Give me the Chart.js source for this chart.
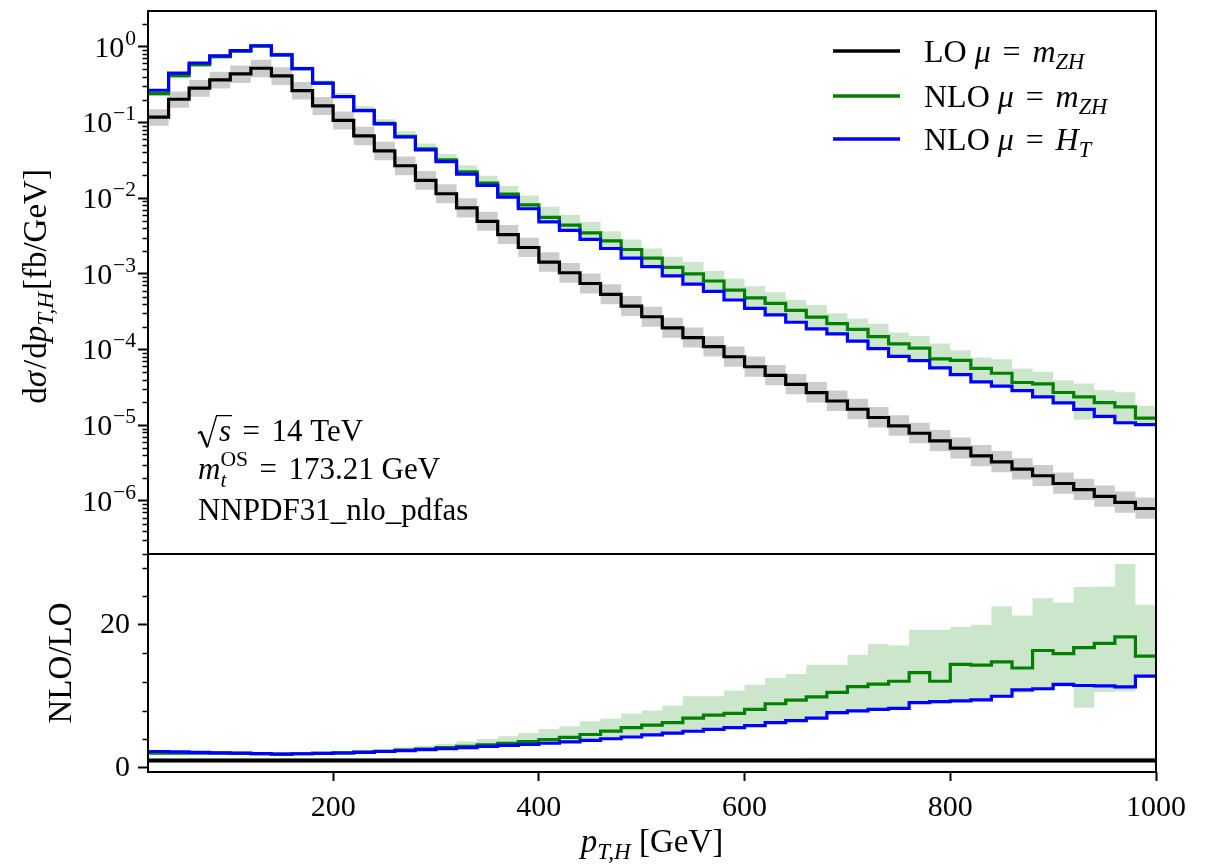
<!DOCTYPE html>
<html><head><meta charset="utf-8">
<script src="https://cdn.jsdelivr.net/npm/chart.js@4.4.1/dist/chart.umd.min.js"></script>
<style>
html,body{margin:0;padding:0;background:#fff;}
#wrap{position:relative;width:1214px;height:864px;background:#fff;}
canvas{position:absolute;left:0;top:0;}
</style></head><body>
<div id="wrap"><canvas id="cTop" width="1214" height="864"></canvas><canvas id="cBot" width="1214" height="864"></canvas></div>
<script>
// ---------- data ----------
const EDGES = [20,40,60,80,100,120,140,160,180,200,220,240,260,280,300,320,340,360,380,400,420,440,460,480,500,520,540,560,580,600,620,640,660,680,700,720,740,760,780,800,820,840,860,880,900,920,940,960,980,1000];
// LO central value dsigma/dpT [fb/GeV]
const LO = [0.117,0.202,0.283,0.364,0.436,0.519,0.411,0.263,0.165,0.106,0.0664,0.0421,0.0267,0.0171,0.0114,0.0074,0.00492,0.00329,0.00222,0.00142,0.00103,7.43e-4,5.32e-4,3.73e-4,2.70e-4,1.93e-4,1.43e-4,1.09e-4,8.0e-5,5.9e-5,4.54e-5,3.46e-5,2.69e-5,2.08e-5,1.62e-5,1.26e-5,9.75e-6,7.8e-6,6.18e-6,4.95e-6,3.92e-6,3.27e-6,2.62e-6,2.14e-6,1.69e-6,1.40e-6,1.14e-6,9.5e-7,7.9e-7];
// LO scale band (relative to LO)
const LO_UP = [1.27,1.27,1.28,1.28,1.29,1.29,1.30,1.30,1.31,1.31,1.32,1.32,1.33,1.33,1.33,1.34,1.34,1.34,1.35,1.35,1.35,1.35,1.36,1.36,1.36,1.36,1.36,1.37,1.37,1.37,1.37,1.37,1.38,1.38,1.38,1.38,1.38,1.38,1.39,1.39,1.39,1.39,1.39,1.39,1.40,1.40,1.40,1.40,1.40];
const LO_DN = [0.77,0.77,0.77,0.77,0.76,0.76,0.76,0.76,0.76,0.76,0.75,0.75,0.75,0.75,0.75,0.75,0.75,0.75,0.75,0.75,0.74,0.74,0.74,0.74,0.74,0.74,0.74,0.74,0.74,0.74,0.74,0.74,0.74,0.74,0.74,0.74,0.74,0.74,0.73,0.73,0.73,0.73,0.73,0.73,0.73,0.73,0.73,0.73,0.73];
// NLO/LO ratios
const R_MZH = [2.05,2.05,2.04,2.03,2.0,1.96,1.9,1.95,2.0,2.07,2.17,2.3,2.45,2.62,2.8,3.0,3.2,3.42,3.65,3.92,4.25,4.65,5.11,5.6,5.95,6.3,6.95,7.35,7.6,8.15,8.95,9.45,9.9,10.55,11.35,11.7,12.1,13.3,12.1,14.45,14.35,14.8,13.95,16.4,15.95,16.8,17.4,18.3,15.6];
const R_MZH_HI = [2.25,2.22,2.2,2.18,2.14,2.1,2.04,2.1,2.18,2.3,2.45,2.62,2.85,3.08,3.35,3.65,4.0,4.4,4.85,5.4,5.8,6.5,6.85,7.6,8.0,8.7,10.0,10.0,10.8,11.6,12.55,13.1,14.4,14.4,15.8,17.3,17.1,19.3,19.3,19.7,20.0,22.6,21.3,23.7,23.1,25.3,25.35,28.5,22.8];
const R_MZH_LO = [1.9,1.9,1.9,1.9,1.88,1.85,1.8,1.85,1.9,1.96,2.05,2.15,2.28,2.42,2.56,2.72,2.88,3.05,3.22,3.4,3.6,3.85,4.1,4.35,4.6,4.85,5.1,5.35,5.6,5.9,6.25,6.55,6.9,7.4,7.75,7.95,8.15,8.9,9.0,9.15,9.3,9.8,10.5,10.8,11.3,8.4,10.6,10.7,12.9];
const R_HT = [2.27,2.22,2.15,2.08,2.03,1.98,1.9,1.95,2.0,2.06,2.15,2.27,2.4,2.53,2.65,2.8,2.98,3.12,3.25,3.42,3.62,3.82,4.05,4.3,4.6,4.85,5.1,5.35,5.62,5.9,6.3,6.6,6.95,7.7,7.95,8.15,8.3,9.1,9.25,9.35,9.5,10.0,10.9,11.05,11.65,11.5,11.45,11.3,12.8];
// ticks
const X_TICKS = [200,400,600,800,1000];
const LOG_TICKS = [1,1e-1,1e-2,1e-3,1e-4,1e-5,1e-6];
const LOG_EXP = ['0','\u22121','\u22122','\u22123','\u22124','\u22125','\u22126'];
const RATIO_TICKS = [0,20];
const RATIO_MINOR = [4,8,12,16,24,28];
const LEGEND = ['LO', 'NLO', 'NLO'];

// ---------- helpers ----------
const SERIF = '"Liberation Serif","DejaVu Serif",serif';
const TICK_FS = 30, TEXT_FS = 31, LEG_FS = 32, LAB_FS = 33;
function fnt(size, it){ return (it ? 'italic ' : '') + size.toFixed(1) + 'px ' + SERIF; }
function layoutRuns(ctx, runs, size){
  let x = 0, items = [], prevStart = 0, prevW = 0;
  for (const r of runs){
    const s = size * (r.s || 1);
    ctx.font = fnt(s, r.it);
    const w = ctx.measureText(r.t).width;
    x += (r.pre || 0) * size;
    let start = x;
    if (r.stack){ start = prevStart; x = Math.max(prevStart + prevW, prevStart + w); }
    else { x += w; }
    items.push({r, s, x: start, w});
    prevStart = start; prevW = w;
    x += (r.gap || 0) * size;
  }
  return {items, width: x};
}
function drawRuns(ctx, runs, x, y, size, align){
  const L = layoutRuns(ctx, runs, size);
  const x0 = align === 'center' ? x - L.width / 2 : (align === 'right' ? x - L.width : x);
  ctx.textAlign = 'left'; ctx.textBaseline = 'alphabetic'; ctx.fillStyle = '#000';
  for (const it of L.items){
    ctx.font = fnt(it.s, it.r.it);
    ctx.fillText(it.r.t, x0 + it.x, y + (it.r.dy || 0) * size);
  }
  return L.width;
}
const EQ = {t: ' = ', pre: 0.12, gap: 0.12};
const steps = vals => { const p = []; vals.forEach((v, i) => { p.push({x: EDGES[i], y: v}); p.push({x: EDGES[i + 1], y: v}); }); return p; };
const mul = (a, b) => a.map((v, i) => v * b[i]);

const GREEN = '#008000', BLUE = '#0000ff', BLACK = '#000000';
const GREEN_BAND = 'rgba(0,128,0,0.2)', GREY_BAND = 'rgba(0,0,0,0.2)';
function lineDs(data, color, order, w){ return {data: steps(data), borderColor: color, borderWidth: w || 3.2, pointRadius: 0, fill: false, tension: 0, order, clip: 0, borderJoinStyle: 'miter', borderCapStyle: 'butt'}; }
function bandDs(data, color, fill, order){ return {data: steps(data), borderColor: 'rgba(0,0,0,0)', borderWidth: 1, pointRadius: 0, backgroundColor: color, fill, tension: 0, order, clip: 0}; }

const framePlugin = {id: 'frame', afterDraw(chart){ const a = chart.chartArea, c = chart.ctx; c.save(); c.strokeStyle = '#000'; c.lineWidth = 2; c.strokeRect(a.left, a.top, a.right - a.left, a.bottom - a.top); c.restore(); }};

function minorTicks(ctx, scale, vals, len){
  ctx.save(); ctx.strokeStyle = '#000'; ctx.lineWidth = 1.5;
  for (const v of vals){ const y = Math.round(scale.getPixelForValue(v)) + 0.5; ctx.beginPath(); ctx.moveTo(scale.right, y); ctx.lineTo(scale.right - len, y); ctx.stroke(); }
  ctx.restore();
}

// ---------- top panel ----------
const topAnno = {id: 'topAnno', afterDraw(chart){
  const ctx = chart.ctx, ys = chart.scales.y, a = chart.chartArea;
  // minor log ticks
  const minors = [];
  for (let n = -7; n <= 0; n++) for (let m = 2; m <= 9; m++){ const v = m * Math.pow(10, n); if (v > ys.min && v < ys.max) minors.push(v); }
  minorTicks(ctx, ys, minors, 5.5);
  // log tick labels
  LOG_TICKS.forEach((v, i) => {
    const y = ys.getPixelForValue(v);
    drawRuns(ctx, [{t: '10'}, {t: LOG_EXP[i], s: 0.72, dy: -0.4, pre: 0.03}], 136, y + 10, TICK_FS, 'right');
  });
  // y label
  ctx.save(); ctx.translate(46, (a.top + a.bottom) / 2 + 4); ctx.rotate(-Math.PI / 2);
  drawRuns(ctx, [{t: 'd'}, {t: '\u03c3', it: 1, gap: 0.06}, {t: '/', gap: 0.04}, {t: 'd'}, {t: 'p', it: 1}, {t: 'T,H', it: 1, s: 0.7, dy: 0.22, gap: 0.06}, {t: '[fb/GeV]'}], 0, 0, LAB_FS, 'center');
  ctx.restore();
  // legend
  const legY = [51, 96, 139], cols = [BLACK, GREEN, BLUE];
  const legRuns = [
    [{t: LEGEND[0] + ' '}, {t: '\u03bc', it: 1}, EQ, {t: 'm', it: 1}, {t: 'ZH', it: 1, s: 0.7, dy: 0.22}],
    [{t: LEGEND[1] + ' '}, {t: '\u03bc', it: 1}, EQ, {t: 'm', it: 1}, {t: 'ZH', it: 1, s: 0.7, dy: 0.22}],
    [{t: LEGEND[2] + ' '}, {t: '\u03bc', it: 1}, EQ, {t: 'H', it: 1}, {t: 'T', it: 1, s: 0.7, dy: 0.22}]
  ];
  legY.forEach((y, i) => {
    ctx.save(); ctx.strokeStyle = cols[i]; ctx.lineWidth = 3.6; ctx.beginPath(); ctx.moveTo(833, y); ctx.lineTo(900, y); ctx.stroke(); ctx.restore();
    drawRuns(ctx, legRuns[i], 924, y + 11, LEG_FS, 'left');
  });
  // annotations
  const S = TEXT_FS, x0 = 198, b1 = 441;
  ctx.save(); ctx.strokeStyle = '#000'; ctx.lineWidth = 1.6; ctx.lineJoin = 'miter';
  ctx.beginPath(); ctx.moveTo(x0, b1 - 0.24 * S); ctx.lineTo(x0 + 0.09 * S, b1 - 0.31 * S); ctx.stroke();
  ctx.lineWidth = 2.4; ctx.beginPath(); ctx.moveTo(x0 + 0.09 * S, b1 - 0.31 * S); ctx.lineTo(x0 + 0.3 * S, b1 + 0.2 * S); ctx.stroke();
  ctx.lineWidth = 1.4; ctx.beginPath(); ctx.moveTo(x0 + 0.3 * S, b1 + 0.2 * S); ctx.lineTo(x0 + 0.6 * S, b1 - 0.82 * S); ctx.lineTo(x0 + 1.1 * S, b1 - 0.82 * S); ctx.stroke();
  ctx.restore();
  drawRuns(ctx, [{t: 's', it: 1}, EQ, {t: '14 TeV'}], x0 + 0.68 * S, b1, S, 'left');
  drawRuns(ctx, [{t: 'm', it: 1}, {t: 't', it: 1, s: 0.7, dy: 0.25}, {t: 'OS', s: 0.7, dy: -0.42, stack: 1}, EQ, {t: '173.21 GeV'}], x0, 479, S, 'left');
  drawRuns(ctx, [{t: 'NNPDF31_nlo_pdfas'}], x0, 520, S, 'left');
}};

const topChart = new Chart(document.getElementById('cTop'), {
  type: 'line',
  data: {datasets: [
    bandDs(mul(LO, LO_UP), GREY_BAND, 1, 10),
    bandDs(mul(LO, LO_DN), 'rgba(0,0,0,0)', false, 10),
    bandDs(mul(LO, R_MZH_HI), GREEN_BAND, 3, 9),
    bandDs(mul(LO, R_MZH_LO), 'rgba(0,0,0,0)', false, 9),
    lineDs(LO, BLACK, 3),
    lineDs(mul(LO, R_MZH), GREEN, 2),
    lineDs(mul(LO, R_HT), BLUE, 1)
  ]},
  options: {
    responsive: false, animation: false, events: [], maintainAspectRatio: false,
    layout: {padding: {left: 0, right: 58, top: 11, bottom: 310}},
    plugins: {legend: {display: false}, tooltip: {enabled: false}},
    scales: {
      x: {type: 'linear', min: 20, max: 1000, display: false},
      y: {type: 'logarithmic', min: 1.98e-7, max: 2.96,
        afterBuildTicks: s => { s.ticks = LOG_TICKS.map(v => ({value: v, major: true})); },
        afterFit: s => { s.width = 148; },
        ticks: {display: false},
        border: {display: false},
        grid: {display: true, drawOnChartArea: false, drawTicks: true, tickLength: 10, tickWidth: 2, tickColor: '#000'}
      }
    }
  },
  plugins: [framePlugin, topAnno]
});

// ---------- ratio panel ----------
const ones = LO.map(v => v / v);
const botAnno = {id: 'botAnno', afterDraw(chart){
  const ctx = chart.ctx, ys = chart.scales.y, a = chart.chartArea;
  minorTicks(ctx, ys, RATIO_MINOR, 5.5);
  ctx.save(); ctx.translate(71, (a.top + a.bottom) / 2); ctx.rotate(-Math.PI / 2);
  drawRuns(ctx, [{t: 'NLO/LO'}], 0, 0, LAB_FS, 'center');
  ctx.restore();
  drawRuns(ctx, [{t: 'p', it: 1}, {t: 'T,H', it: 1, s: 0.7, dy: 0.22}, {t: ' [GeV]'}], (a.left + a.right) / 2, 852, LAB_FS, 'center');
}};

const botChart = new Chart(document.getElementById('cBot'), {
  type: 'line',
  data: {datasets: [
    bandDs(LO_UP, GREY_BAND, 1, 10),
    bandDs(LO_DN, 'rgba(0,0,0,0)', false, 10),
    bandDs(R_MZH_HI, GREEN_BAND, 3, 9),
    bandDs(R_MZH_LO, 'rgba(0,0,0,0)', false, 9),
    lineDs(ones, BLACK, 3, 4),
    lineDs(R_MZH, GREEN, 2),
    lineDs(R_HT, BLUE, 1)
  ]},
  options: {
    responsive: false, animation: false, events: [], maintainAspectRatio: false,
    layout: {padding: {left: 0, right: 58, top: 554, bottom: 0}},
    plugins: {legend: {display: false}, tooltip: {enabled: false}},
    scales: {
      x: {type: 'linear', min: 20, max: 1000,
        afterBuildTicks: s => { s.ticks = X_TICKS.map(v => ({value: v})); },
        afterFit: s => { s.height = 92; },
        ticks: {color: '#000', font: {family: SERIF, size: TICK_FS}, padding: 9, maxRotation: 0, autoSkip: false, callback: v => String(v)},
        border: {display: false},
        grid: {display: true, drawOnChartArea: false, drawTicks: true, tickLength: 9, tickWidth: 2, tickColor: '#000'}
      },
      y: {type: 'linear', min: -0.6, max: 29.9,
        afterBuildTicks: s => { s.ticks = RATIO_TICKS.map(v => ({value: v})); },
        afterFit: s => { s.width = 148; },
        ticks: {color: '#000', font: {family: SERIF, size: TICK_FS}, padding: 8, callback: v => String(v)},
        border: {display: false},
        grid: {display: true, drawOnChartArea: false, drawTicks: true, tickLength: 10, tickWidth: 2, tickColor: '#000'}
      }
    }
  },
  plugins: [framePlugin, botAnno]
});
</script>
</body></html>
